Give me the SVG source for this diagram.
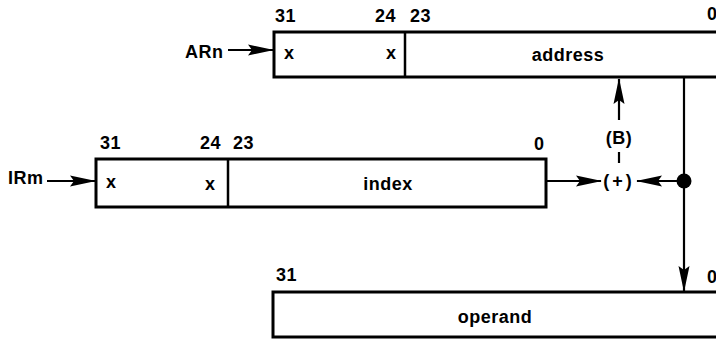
<svg xmlns="http://www.w3.org/2000/svg" width="716" height="340" viewBox="0 0 716 340">
<style>
  text { font-family: "Liberation Sans", Arial, sans-serif; font-weight: bold; font-size: 18px; fill: #000; letter-spacing: 0.5px; }
  .mid { text-anchor: middle; }
  .box { fill: #fff; stroke: #000; stroke-width: 3; }
  .div { stroke: #000; stroke-width: 2.5; }
  .conn { stroke: #000; stroke-width: 2.2; fill: none; }
</style>
<defs>
  <marker id="ah" viewBox="0 0 26 13" refX="25" refY="6.5" markerWidth="26" markerHeight="13" markerUnits="userSpaceOnUse" orient="auto">
    <path d="M0,1 L26,6.5 L0,12 L4,6.5 Z" fill="#000"/>
  </marker>
</defs>
<rect width="716" height="340" fill="#fff"/>

<g id="ARn">
  <rect class="box" x="274" y="32" width="470" height="45"/>
  <line class="div" x1="405" y1="32" x2="405" y2="77"/>
  <text x="275" y="22">31</text>
  <text x="375" y="22">24</text>
  <text x="410" y="22">23</text>
  <text x="707" y="20">0</text>
  <text x="284" y="59">x</text>
  <text x="386" y="59">x</text>
  <text class="mid" x="568" y="61">address</text>
  <text x="185" y="58">ARn</text>
</g>

<g id="IRm">
  <rect class="box" x="96" y="159" width="450" height="48"/>
  <line class="div" x1="228" y1="159" x2="228" y2="207"/>
  <text x="100" y="149">31</text>
  <text x="200" y="149">24</text>
  <text x="233" y="149">23</text>
  <text x="534" y="150">0</text>
  <text x="106" y="188">x</text>
  <text x="205" y="190">x</text>
  <text class="mid" x="388" y="190">index</text>
  <text x="8" y="184">IRm</text>
</g>

<g id="operand">
  <rect class="box" x="273" y="292" width="470" height="45"/>
  <text x="276" y="281">31</text>
  <text x="707" y="283">0</text>
  <text class="mid" x="495" y="323">operand</text>
</g>

<g id="adder">
  <text class="mid" x="619" y="187" style="letter-spacing:3px">(+)</text>
  <text class="mid" x="619" y="144">(B)</text>
</g>

<g id="connectors">
  <line class="conn" x1="228" y1="50" x2="273" y2="50" marker-end="url(#ah)"/>
  <line class="conn" x1="47" y1="181" x2="95" y2="181" marker-end="url(#ah)"/>
  <line class="conn" x1="546" y1="181" x2="601" y2="181" marker-end="url(#ah)"/>
  <line class="conn" x1="684" y1="181" x2="637" y2="181" marker-end="url(#ah)"/>
  <line class="conn" x1="619" y1="120" x2="619" y2="79" marker-end="url(#ah)"/>
  <line class="conn" x1="619" y1="152" x2="619" y2="163"/>
  <line class="conn" x1="684" y1="77" x2="684" y2="291" marker-end="url(#ah)"/>
  <circle cx="684" cy="181" r="7.5" fill="#000"/>
</g>
</svg>
